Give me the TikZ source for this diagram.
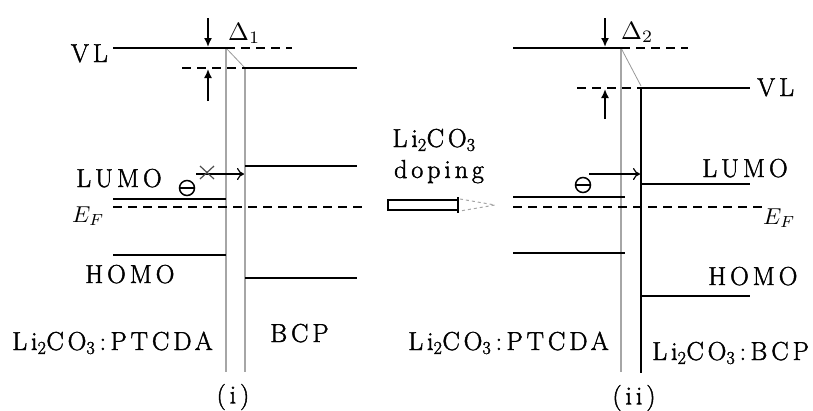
\RequirePackage{fix-cm}
\documentclass[tikz,border=0pt]{standalone}
\usepackage{fontspec}
\setmainfont{Latin Modern Roman}
\newfontfamily\spacedfont[LetterSpace=15,FakeBold=1.6]{Latin Modern Roman}
\usetikzlibrary{arrows.meta}
\begin{document}
\begin{tikzpicture}[x=1pt,y=-1pt,
  lvl/.style={line width=2pt,black},
  dsh/.style={line width=2pt,black,dash pattern=on 9pt off 6pt},
  gline/.style={line width=2.2pt,black!35},
  slant/.style={line width=0.8pt,black!40},
  dnarrow/.style={line width=1.6pt,-{Latex[length=9pt,width=8pt]}},
  earrow/.style={line width=1.6pt,-{To[length=7pt,width=12pt,line width=1.2pt]}},
  lbl/.style={inner sep=0pt,font=\fontsize{26}{30}\selectfont\spacedfont},
  mlbl/.style={inner sep=0pt},
  electron/.style={circle,draw,line width=1.5pt,minimum width=15pt,inner sep=0pt,
    path picture={\draw[line width=1.5pt] (path picture bounding box.west) -- (path picture bounding box.east);}},
]
\useasboundingbox (0,0) rectangle (813,410);

% ---------------- Panel (i) ----------------
\draw[gline] (226,48) -- (226,372);
\draw[gline] (245,68) -- (245,372);
\draw[slant] (226,48) -- (245,68);
\draw[lvl] (113,48) -- (226,48);
\draw[dsh] (226,48) -- (292,48);
\draw[dsh] (182,68) -- (245,68);
\draw[lvl] (245,68) -- (357,68);
\draw[dnarrow] (208,18) -- (208,47);
\draw[dnarrow] (208,101) -- (208,69);
\draw[lvl] (113,199) -- (226,199);
\draw[lvl] (245,166) -- (357,166);
\draw[dsh] (113,207) -- (365,207);
\draw[lvl] (113,255) -- (226,255);
\draw[lvl] (245,278) -- (357,278);
\draw[earrow] (196,174) -- (244,174);
\draw[line width=1.2pt,black!70] (200,166) -- (214,179) (200,179) -- (214,166);
\node[electron] (e1) at (187,188) {};

\node[lbl,anchor=base east] (vl1) at (108,62) {VL};
\node[lbl,anchor=base west] (lumo1) at (76,187) {LUMO};
\node[mlbl,anchor=base west] (ef1) at (72,222) {\scalebox{2.3}{$E_F$}};
\node[lbl,anchor=base west] (homo1) at (85,283) {HOMO};
\node[lbl,anchor=base west] (ptcda1) at (12,350) {Li\textsubscript{2}CO\textsubscript{3}\,:\,PTCDA};
\node[lbl,anchor=base west] (bcp1) at (270,342) {BCP};
\node[lbl] (i) at (233,397) {(i)};
\node[mlbl,anchor=base west] (d1) at (228,40) {\scalebox{2.5}{$\Delta_1$}};

% ---------------- middle ----------------
\node[lbl,anchor=base] (li) at (434,147) {Li\textsubscript{2}CO\textsubscript{3}};
\node[lbl,anchor=base] (dop) at (439,178) {doping};
\draw[line width=1.5pt] (457,200) -- (388,200) -- (388,210) -- (457,210);
\draw[line width=1.5pt] (458,197) -- (458,213);
\draw[line width=1pt,black!35,dash pattern=on 3pt off 3pt] (460,199) -- (495,205) -- (460,211);

% ---------------- Panel (ii) ----------------
\draw[gline] (621,48) -- (621,372);
\draw[slant] (621,48) -- (641,86);
\draw[line width=2pt] (641,88) -- (641,373);
\draw[lvl] (513,48) -- (621,48);
\draw[dsh] (621,48) -- (688,48);
\draw[dsh] (577,88) -- (641,88);
\draw[lvl] (641,88) -- (750,88);
\draw[dnarrow] (605,18) -- (605,47);
\draw[dnarrow] (605,119) -- (605,89);
\draw[lvl] (513,197) -- (625,197);
\draw[lvl] (641,184) -- (750,184);
\draw[dsh] (513,207) -- (765,207);
\draw[lvl] (513,253) -- (625,253);
\draw[lvl] (641,296) -- (750,296);
\draw[earrow] (589,174) -- (640,174);
\node[electron] (e2) at (583,185) {};

\node[mlbl,anchor=base west] (d2) at (621,39) {\scalebox{2.5}{$\Delta_2$}};
\node[lbl,anchor=base west] (vl2) at (757,96) {VL};
\node[lbl,anchor=base west] (lumo2) at (702,177) {LUMO};
\node[mlbl,anchor=base west] (ef2) at (763,224) {\scalebox{2.3}{$E_F$}};
\node[lbl,anchor=base west] (homo2) at (708,285) {HOMO};
\node[lbl,anchor=base west] (ptcda2) at (408,350) {Li\textsubscript{2}CO\textsubscript{3}\,:\,PTCDA};
\node[lbl,anchor=base west] (bcp2) at (652,360) {Li\textsubscript{2}CO\textsubscript{3}\,:\,BCP};
\node[lbl] (ii) at (634,398) {(ii)};
\end{tikzpicture}
\end{document}
